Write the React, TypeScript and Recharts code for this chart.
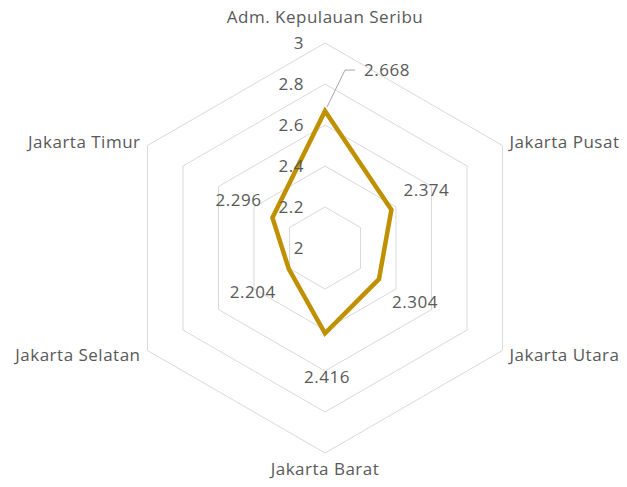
import { RadarChart, Radar, PolarGrid, PolarAngleAxis, PolarRadiusAxis, LabelList } from 'recharts';

// Regions and their index scores
const regions = [
  'Adm. Kepulauan Seribu',
  'Jakarta Pusat',
  'Jakarta Utara',
  'Jakarta Barat',
  'Jakarta Selatan',
  'Jakarta Timur',
];
const scores = [2.668, 2.374, 2.304, 2.416, 2.204, 2.296];
const radiusTicks = [2, 2.2, 2.4, 2.6, 2.8, 3];

const data = regions.map((region, i) => ({ region, score: scores[i] }));

const TEXT = '#595959';
const FONT = '"Open Sans", sans-serif';
const SIZE = 17;
const SPACING = 0.5;

// where each value label sits relative to its point
const labelOffsets = [
  [62, -41],
  [35, -20],
  [36, 23],
  [2, 44],
  [-36, 23],
  [-34, -18],
];

function AngleTick(props: any) {
  const { x, y, payload, textAnchor } = props;
  const a = ((payload.coordinate % 360) + 360) % 360;
  let dy = 6;
  if (a === 90) dy = -12;
  else if (a === 270) dy = 14;
  return (
    <text x={x} y={y + dy} textAnchor={textAnchor} fill={TEXT} fontSize={SIZE} letterSpacing={SPACING} fontFamily={FONT}>
      {payload.value}
    </text>
  );
}

function RadiusTick(props: any) {
  const { x, y, payload } = props;
  return (
    <text x={x - 21} y={y} dy={6} textAnchor="end" fill={TEXT} fontSize={SIZE} letterSpacing={SPACING} fontFamily={FONT}>
      {payload.value}
    </text>
  );
}

function ValueLabel(props: any) {
  const { x, y, value, index } = props;
  const [dx, dy] = labelOffsets[index];
  const lx = x + dx;
  const ly = y + dy;
  return (
    <g>
      {index === 0 && (
        <path d={`M${x + 2},${y - 4} L${x + 20},${ly} L${x + 30},${ly}`} stroke="#a6a6a6" strokeWidth={1} fill="none" />
      )}
      <text x={lx} y={ly} dy={6} textAnchor="middle" fill={TEXT} fontSize={SIZE} letterSpacing={SPACING} fontFamily={FONT}>
        {value}
      </text>
    </g>
  );
}

export default function App() {
  return (
    <div style={{ position: 'absolute', left: 0, top: 0, width: 627, height: 487, background: '#fff' }}>
      <RadarChart width={627} height={487} data={data} cx={325} cy={248} outerRadius={205}>
        <PolarGrid gridType="polygon" radialLines={false} stroke="#d9d9d9" strokeWidth={1} />
        <PolarAngleAxis dataKey="region" tick={<AngleTick />} tickLine={false} axisLine={false} />
        <PolarRadiusAxis
          angle={90}
          domain={[2, 3]}
          ticks={radiusTicks}
          tickCount={6}
          tick={<RadiusTick />}
          axisLine={false}
          tickLine={false}
        />
        <Radar
          dataKey="score"
          stroke="#bf9000"
          strokeWidth={4.5}
          fill="none"
          fillOpacity={0}
          dot={false}
          isAnimationActive={false}
        >
          <LabelList dataKey="score" content={<ValueLabel />} />
        </Radar>
      </RadarChart>
    </div>
  );
}
